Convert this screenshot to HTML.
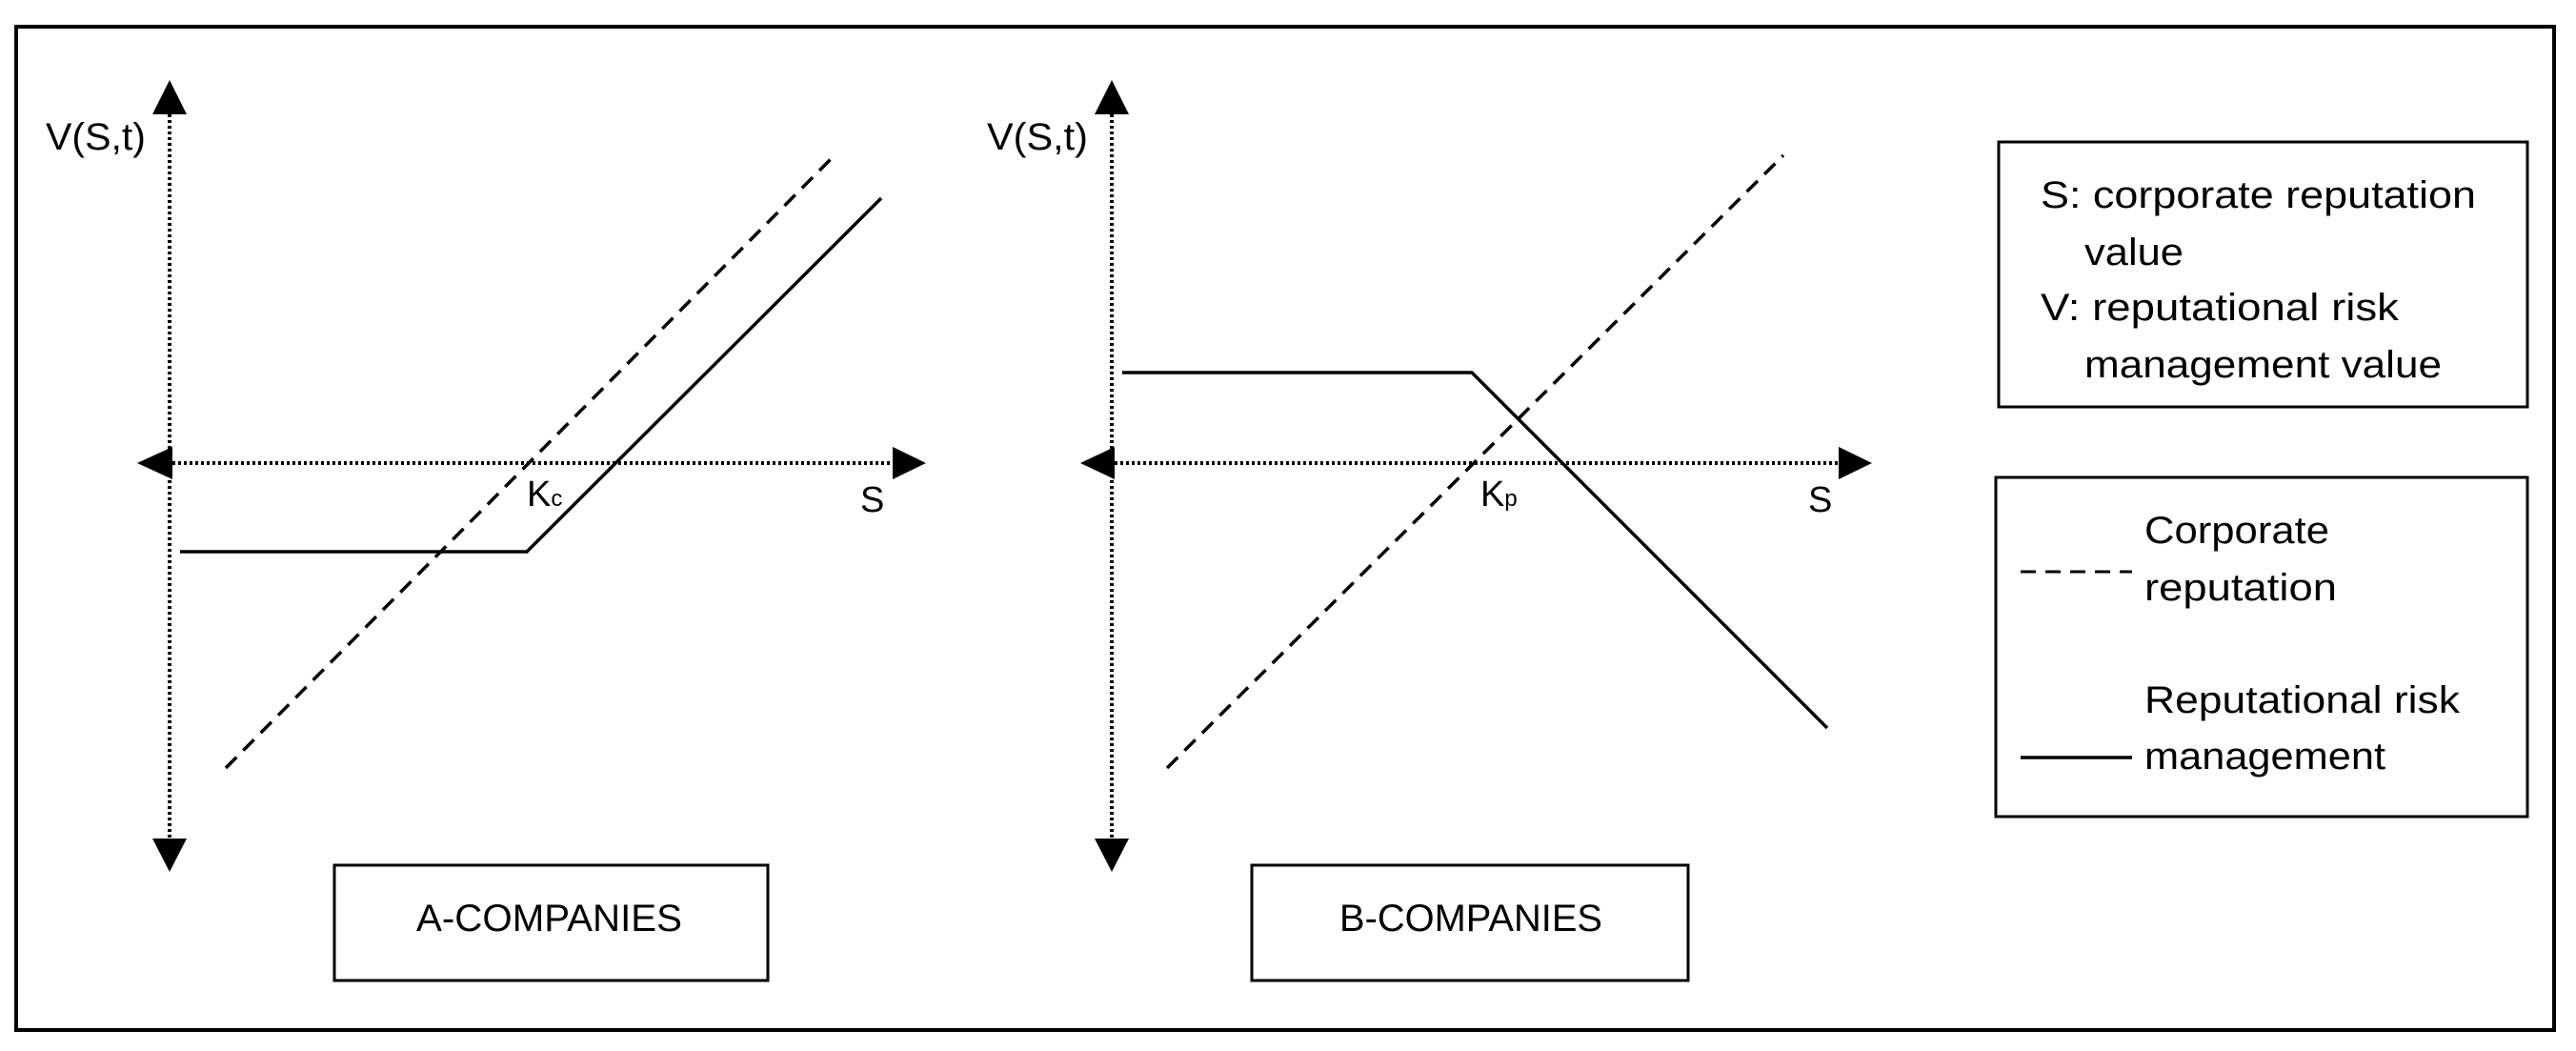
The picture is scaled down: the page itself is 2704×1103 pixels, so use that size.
<!DOCTYPE html>
<html><head><meta charset="utf-8"><style>html,body{margin:0;padding:0;background:#fff}svg{display:block}</style></head>
<body>
<svg width="2704" height="1103" viewBox="0 0 2704 1103" xmlns="http://www.w3.org/2000/svg" font-family="Liberation Sans, sans-serif" font-size="40" fill="#000">
<rect x="17" y="28" width="2664" height="1053" fill="none" stroke="#000" stroke-width="4"/>
<g stroke="#000" stroke-width="4" stroke-dasharray="3 3" fill="none">
<line x1="178" y1="120" x2="178" y2="882"/>
<line x1="181" y1="486" x2="938" y2="486"/>
<line x1="1167" y1="120" x2="1167" y2="882"/>
<line x1="1170" y1="486" x2="1931" y2="486"/>
</g>
<g fill="#000">
<polygon points="178,84 160,120 196,120"/>
<polygon points="178,915 160,880 196,880"/>
<polygon points="144,486 181,469 181,503"/>
<polygon points="972,486 937,469 937,503"/>
<polygon points="1167,84 1149,120 1185,120"/>
<polygon points="1167,915 1149,880 1185,880"/>
<polygon points="1134,486 1170,469 1170,503"/>
<polygon points="1965,486 1930,469 1930,503"/>
</g>
<g stroke="#000" stroke-width="3.5" fill="none">
<line x1="237" y1="806" x2="877" y2="162" stroke-dasharray="16 10"/>
<polyline points="189,579 553,579 925,208"/>
<line x1="1225" y1="806" x2="1872" y2="163" stroke-dasharray="16 10"/>
<polyline points="1178,391 1545,391 1918,764"/>
</g>
<text x="48" y="157" textLength="105" lengthAdjust="spacingAndGlyphs">V(S,t)</text>
<text x="1036" y="157" textLength="106" lengthAdjust="spacingAndGlyphs">V(S,t)</text>
<text x="553" y="531" font-size="38">K<tspan font-size="24">c</tspan></text>
<text x="1554" y="531" font-size="38">K<tspan font-size="24">p</tspan></text>
<text x="903" y="537" font-size="38">S</text>
<text x="1898" y="537" font-size="38">S</text>
<rect x="351" y="908" width="455" height="121" fill="none" stroke="#000" stroke-width="3"/>
<text x="437" y="977" textLength="279" lengthAdjust="spacingAndGlyphs">A-COMPANIES</text>
<rect x="1314" y="908" width="458" height="121" fill="none" stroke="#000" stroke-width="3"/>
<text x="1406" y="977" textLength="276" lengthAdjust="spacingAndGlyphs">B-COMPANIES</text>
<rect x="2098" y="149" width="555" height="278" fill="none" stroke="#000" stroke-width="3"/>
<text x="2142" y="218" textLength="457" lengthAdjust="spacingAndGlyphs">S: corporate reputation</text>
<text x="2188" y="278" textLength="104" lengthAdjust="spacingAndGlyphs">value</text>
<text x="2142" y="336" textLength="376" lengthAdjust="spacingAndGlyphs">V: reputational risk</text>
<text x="2188" y="396" textLength="375" lengthAdjust="spacingAndGlyphs">management value</text>
<rect x="2095" y="501" width="558" height="356" fill="none" stroke="#000" stroke-width="3"/>
<text x="2251" y="570" textLength="194" lengthAdjust="spacingAndGlyphs">Corporate</text>
<text x="2251" y="630" textLength="202" lengthAdjust="spacingAndGlyphs">reputation</text>
<line x1="2121" y1="600" x2="2238" y2="600" stroke="#000" stroke-width="3" stroke-dasharray="16 10"/>
<text x="2251" y="748" textLength="331" lengthAdjust="spacingAndGlyphs">Reputational risk</text>
<text x="2251" y="807" textLength="253" lengthAdjust="spacingAndGlyphs">management</text>
<line x1="2121" y1="795" x2="2238" y2="795" stroke="#000" stroke-width="3.5"/>
</svg>
</body></html>
